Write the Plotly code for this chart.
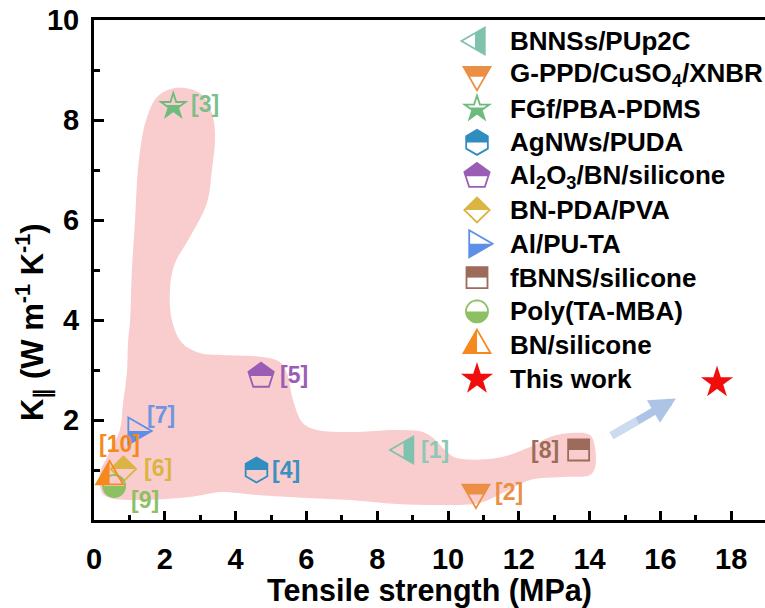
import math
import plotly.graph_objects as go

# ---------------- data ----------------
series_names = ["BNNSs/PUp2C", "G-PPD/CuSO<sub>4</sub>/XNBR", "FGf/PBA-PDMS", "AgNWs/PUDA",
                "Al<sub>2</sub>O<sub>3</sub>/BN/silicone", "BN-PDA/PVA", "Al/PU-TA",
                "fBNNS/silicone", "Poly(TA-MBA)", "BN/silicone", "This work"]
ref_labels = ["[1]", "[2]", "[3]", "[4]", "[5]", "[6]", "[7]", "[8]", "[9]", "[10]", ""]
tensile_strength = [8.80, 10.79, 2.24, 4.59, 4.72, 0.83, 1.19, 13.69, 0.57, 0.44, 17.60]
k_parallel = [1.40, 0.55, 8.28, 1.00, 2.88, 1.02, 1.78, 1.40, 0.68, 0.87, 2.75]

x_ticks = [0, 2, 4, 6, 8, 10, 12, 14, 16, 18]
y_ticks = [2, 4, 6, 8, 10]

# outline of the shaded (pink) region, in data units
region_strength = [2.29, 2.99, 3.33, 3.42, 3.33, 3.19, 2.71, 2.29, 2.15, 2.20, 2.49, 2.99, 3.64,
                   4.77, 5.25, 5.45, 5.62, 5.90, 6.30, 7.23, 8.56, 9.29, 9.58, 9.97, 10.25, 11.38,
                   12.32, 12.88, 13.45, 14.01, 14.15, 14.15, 14.01, 13.25, 12.32, 11.55, 10.90,
                   9.97, 8.56, 7.23, 6.02, 4.61, 3.64, 3.36, 2.71, 1.30, 0.45, 0.23, 0.17, 0.37,
                   0.73, 0.82, 0.93, 0.96, 1.02, 1.07, 1.16, 1.24, 1.36, 1.50, 1.78]
region_k = [8.64, 8.54, 8.14, 7.66, 7.00, 6.34, 5.66, 5.14, 4.66, 4.00, 3.54, 3.34, 3.30,
            3.26, 3.16, 2.94, 2.40, 1.94, 1.80, 1.76, 1.80, 1.76, 1.64, 1.36, 1.24, 1.24,
            1.46, 1.66, 1.74, 1.70, 1.46, 1.04, 0.90, 0.86, 0.80, 0.54, 0.34,
            0.30, 0.32, 0.40, 0.44, 0.50, 0.56, 0.54, 0.46, 0.40, 0.44, 0.54, 0.94, 1.26,
            1.80, 2.34, 2.94, 3.54, 4.00, 5.00, 6.00, 7.00, 7.66, 8.06, 8.46]

# ---------------- style ----------------
series_colors = ["#7fc2ae", "#eb8f45", "#6dbb7f", "#2f8dbf", "#9a5cb4", "#dbb443",
                 "#5b8fe8", "#9c6b5a", "#8cc063", "#f5891e", "#f20d0d"]
label_colors = ["#8cc8b6", "#eb8f45", "#7dbf8c", "#3a90c0", "#9a5cb4", "#dbb443",
                "#6f95e0", "#9c6b5a", "#8cc063", "#f5891e", "#f20d0d"]
series_symbols = ["triangle-left", "triangle-down", "star", "hexagon", "pentagon", "diamond",
                  "triangle-right", "square", "circle", "triangle-up", "star"]
# which part of the symbol is filled: (side, cut in px)
fill_parts = [("right", -2), ("top", 2), ("bottom", -1), ("top", 0), ("top", 0), ("top", 0),
              ("bottom", 0), ("top", 0), ("bottom", 0), ("left", 0), ("full", 0)]
# label offsets in pixels (dx, dy up), anchor
label_offsets = [(13.8, 0, "left"), (17.5, 1, "left"), (16, 2, "left"), (13.7, 0, "left"),
                 (17, 1, "left"), (19, 1, "left"), (9, 16, "left"), (-18, 0, "right"),
                 (15, -13.5, "left"), (-12.4, 33, "left"), (0, 0, "left")]

FONT = "Liberation Sans, Arial, sans-serif"
L, R_, T, B = 94, 0, 20, 88
W, H = 765, 608
PW, PH = W - L - R_, H - T - B


def regular(n, r, start):
    return [(r * math.cos(math.radians(start + 360 * i / n)),
             r * math.sin(math.radians(start + 360 * i / n))) for i in range(n)]


def star_pts(r, ratio=0.382):
    pts = []
    for i in range(10):
        rr = r if i % 2 == 0 else r * ratio
        a = math.radians(-90 + 36 * i)
        pts.append((rr * math.cos(a), rr * math.sin(a)))
    return pts


def outline(sym, big=False):
    a = 27.0
    h = a * math.sqrt(3) / 2
    if sym == "square":
        s = 10.5
        return [(-s, -s), (s, -s), (s, s), (-s, s)]
    if sym == "circle":
        return regular(48, 11, 0)
    if sym == "diamond":
        return [(0, -12.5), (12.7, 0), (0, 12.5), (-12.7, 0)]
    if sym == "hexagon":
        return regular(6, 12.5, -90)
    if sym == "pentagon":
        return regular(5, 13.3, -90)
    if sym == "star":
        return star_pts(14.0 if big else 13.0)
    if sym == "triangle-up":
        return [(0, -2 * h / 3), (a / 2, h / 3), (-a / 2, h / 3)]
    if sym == "triangle-down":
        return [(0, 2 * h / 3), (a / 2, -h / 3), (-a / 2, -h / 3)]
    if sym == "triangle-left":
        return [(-2 * h / 3, 0), (h / 3, -a / 2), (h / 3, a / 2)]
    if sym == "triangle-right":
        return [(2 * h / 3, 0), (-h / 3, a / 2), (-h / 3, -a / 2)]


def clip(poly, f):
    out = []
    n = len(poly)
    for i in range(n):
        p, q = poly[i], poly[(i + 1) % n]
        fp, fq = f(p), f(q)
        if fp >= 0:
            out.append(p)
        if (fp >= 0) != (fq >= 0):
            t = fp / (fp - fq)
            out.append((p[0] + t * (q[0] - p[0]), p[1] + t * (q[1] - p[1])))
    return out


def half(poly, side, cut):
    if side == "full":
        return poly
    fn = {"top": lambda p: cut - p[1], "bottom": lambda p: p[1] - cut,
          "left": lambda p: cut - p[0], "right": lambda p: p[0] - cut}[side]
    return clip(poly, fn)


def to_path(poly):
    # pixel-sized shape paths use y pointing up
    return "M " + " L ".join(f"{x:.2f},{-y:.2f}" for x, y in poly) + " Z"


def marker_shapes(sym, part, color, xref, yref, xa, ya, big=False):
    poly = outline(sym, big)
    fill = half(poly, part[0], part[1])
    common = dict(type="path", xref=xref, yref=yref, xsizemode="pixel", ysizemode="pixel",
                  xanchor=xa, yanchor=ya, layer="above")
    return [dict(common, path=to_path(fill), fillcolor=color, line=dict(width=0)),
            dict(common, path=to_path(poly), fillcolor="rgba(0,0,0,0)",
                 line=dict(color=color, width=1.8))]


fig = go.Figure()

# shaded region
fig.add_trace(go.Scatter(x=region_strength + region_strength[:1], y=region_k + region_k[:1],
                         mode="lines", fill="toself", fillcolor="#f9cdcd",
                         line=dict(width=0, shape="spline", smoothing=1.0),
                         hoverinfo="skip", showlegend=False))

shapes = []
annotations = []
for i, name in enumerate(series_names):
    xv, yv = tensile_strength[i], k_parallel[i]
    fig.add_trace(go.Scatter(x=[xv], y=[yv], mode="markers", name=name, showlegend=False,
                             marker=dict(size=24, color="rgba(0,0,0,0)")))
    shapes += marker_shapes(series_symbols[i], fill_parts[i], series_colors[i], "x", "y", xv, yv,
                            big=(i == len(series_names) - 1))
    if ref_labels[i]:
        dx, dy, anc = label_offsets[i]
        annotations.append(dict(x=xv, y=yv, xref="x", yref="y", text=ref_labels[i],
                                showarrow=False, xanchor=anc, yanchor="middle",
                                xshift=dx, yshift=dy,
                                font=dict(family=FONT, size=23, color=label_colors[i], weight="bold")))

# manual legend
leg_x_px, leg_text_px, leg_y0, leg_dy = 477, 508, 41, 33.8
for i, name in enumerate(series_names):
    py = leg_y0 + leg_dy * i
    xa = (leg_x_px - L) / PW
    ya = (T + PH - py) / PH
    shapes += marker_shapes(series_symbols[i], fill_parts[i], series_colors[i], "paper", "paper",
                            xa, ya, big=(i == len(series_names) - 1))
    annotations.append(dict(x=(leg_text_px - L) / PW, y=ya, xref="paper", yref="paper",
                            text=name, showarrow=False, xanchor="left", yanchor="middle",
                            font=dict(family=FONT, size=26, color="black", weight="bold")))

# arrow (two tones to suggest the light-to-blue gradient)
annotations.append(dict(x=16.44, y=2.43, ax=14.58, ay=1.67, xref="x", yref="y",
                        axref="x", ayref="y", text="", showarrow=True, arrowhead=2,
                        arrowsize=0.65, arrowwidth=8, arrowcolor="#adc4e6"))
annotations.append(dict(x=15.35, y=1.985, ax=14.58, ay=1.67, xref="x", yref="y",
                        axref="x", ayref="y", text="", showarrow=True, arrowhead=0,
                        arrowwidth=8, arrowcolor="#cddbf0"))

# y title
annotations.append(dict(x=(33 - L) / PW, y=(T + PH - 322) / PH, xref="paper", yref="paper",
                        text="K<sub>\u2225</sub> (W m<sup>-1</sup> K<sup>-1</sup>)",
                        textangle=-90, showarrow=False, xanchor="center", yanchor="middle",
                        font=dict(family=FONT, size=31, color="black", weight="bold")))

axis_common = dict(showgrid=False, zeroline=False, showline=True, linewidth=3, linecolor="black",
                   ticks="inside", tickwidth=2.5, tickcolor="black",
                   tickfont=dict(family=FONT, size=29, color="black", weight="bold"))

fig.update_layout(
    width=W, height=H, margin=dict(l=L, r=R_, t=T, b=B),
    paper_bgcolor="white", plot_bgcolor="white",
    xaxis=dict(axis_common, range=[0, PW / 35.4], tickvals=x_ticks, ticklen=9, mirror=True,
               ticklabelstandoff=11,
               minor=dict(dtick=1, tick0=0, ticks="inside", ticklen=5, tickwidth=2.5, tickcolor="black"),
               title=dict(text="Tensile strength (MPa)", standoff=2,
                          font=dict(family=FONT, size=30.5, color="black", weight="bold"))),
    yaxis=dict(axis_common, range=[0, 10], tickvals=y_ticks, ticklen=10, mirror=False,
               ticklabelstandoff=6,
               minor=dict(dtick=1, tick0=0, ticks="inside", ticklen=6, tickwidth=2.5, tickcolor="black")),
    shapes=shapes, annotations=annotations, showlegend=False,
)

fig.write_html("out.html")
